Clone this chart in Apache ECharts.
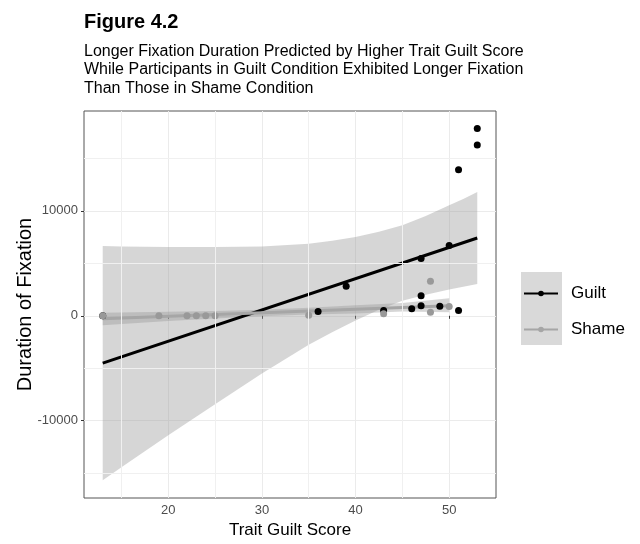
<!DOCTYPE html>
<html><head><meta charset="utf-8">
<script src="https://cdn.jsdelivr.net/npm/echarts@6/dist/echarts.min.js"></script>
<style>html,body{margin:0;padding:0;background:#fff}#c{width:640px;height:544px}</style>
</head><body><div id="c"></div>
<script>
// ---- data ----
const guiltX = [13, 36, 39, 43, 46, 47, 47, 47, 49, 50, 51, 51, 53, 53];
const guiltY = [0, 410, 2819, 500, 680, 950, 1920, 5457, 900, 6695, 505, 13905, 16286, 17838];
const shameX = [13, 19, 22, 23, 24, 25, 35, 43, 48, 48, 50];
const shameY = [0, 0, 0, 0, 0, 0, 50, 190, 330, 3280, 890];
const guiltFitX = [13, 53];
const guiltFitY = [-4515, 7409];
const shameFitX = [13, 50];
const shameFitY = [-280, 950];
const guiltBandX = [13, 15, 20, 25, 30, 35, 37.5, 40, 42.5, 45, 47.5, 50, 51.5, 53];
const guiltBandLo = [-15676, -14436, -11383, -8426, -5501, -2766, -1558, -445, 572, 1431, 2003, 2512, 2766, 3021];
const guiltBandHi = [6645, 6614, 6550, 6550, 6614, 6868, 7154, 7504, 8013, 8617, 9507, 10525, 11129, 11797];
const shameBandX = [13, 20, 25, 30, 35, 40, 45, 50];
const shameBandLo = [-900, -500, -250, -40, 120, 230, 400, 340];
const shameBandHi = [300, 380, 450, 580, 760, 1000, 1220, 1680];
const xTicks = [20, 30, 40, 50];
const yTicks = [-10000, 0, 10000];
const xMinor = [15, 25, 35, 45];
const yMinor = [-15000, -5000, 5000, 15000];
const seriesNames = ['Guilt', 'Shame'];

const FONT = '"Liberation Sans", Arial, Helvetica, sans-serif';
const zip = (a, b) => a.map((v, i) => [v, b[i]]);

function bandSeries(name, xs, lo, hi) {
  return {
    name: name, type: 'custom', z: 2, silent: true,
    data: xs.map((x, i) => [x, lo[i], hi[i]]),
    encode: { x: 0, y: [1, 2] },
    renderItem: function (params, api) {
      if (params.dataIndex !== 0) return null;
      const pts = [];
      for (let i = 0; i < xs.length; i++) pts.push(api.coord([xs[i], hi[i]]));
      for (let i = xs.length - 1; i >= 0; i--) pts.push(api.coord([xs[i], lo[i]]));
      return { type: 'polygon', shape: { points: pts }, style: { fill: 'rgba(153,153,153,0.4)' } };
    }
  };
}

const chart = echarts.init(document.getElementById('c'), null, { renderer: 'canvas' });
chart.setOption({
  animation: false,
  textStyle: { fontFamily: FONT },
  title: [
    { text: 'Figure 4.2', left: 79, top: 7, textStyle: { fontFamily: FONT, fontSize: 20, fontWeight: 'bold', color: '#000' } },
    { text: 'Longer Fixation Duration Predicted by Higher Trait Guilt Score\nWhile Participants in Guilt Condition Exhibited Longer Fixation\nThan Those in Shame Condition',
      left: 79, top: 37, textStyle: { fontFamily: FONT, fontSize: 16, fontWeight: 'normal', color: '#000', lineHeight: 18.5 } }
  ],
  grid: { left: 84, top: 111, width: 412, height: 387, show: true, borderColor: '#555', borderWidth: 1, backgroundColor: '#fff', containLabel: false },
  legend: {
    data: seriesNames, orient: 'vertical', left: 518, top: 280,
    itemWidth: 34, itemHeight: 7, itemGap: 19,
    textStyle: { fontFamily: FONT, fontSize: 17, color: '#000', padding: [0, 0, 0, 8] }
  },
  graphic: [{ type: 'rect', left: 521, top: 272, shape: { width: 41, height: 73 }, style: { fill: '#d9d9d9' }, z: -1 }],
  xAxis: {
    type: 'value', min: 11, max: 55,
    name: 'Trait Guilt Score', nameLocation: 'middle', nameGap: 24, nameMoveOverlap: false,
    nameTextStyle: { fontFamily: FONT, fontSize: 17, color: '#000' },
    axisLine: { show: false },
    axisTick: { show: true, length: 3, customValues: xTicks, lineStyle: { color: '#333' } },
    axisLabel: { customValues: xTicks, margin: 6, fontFamily: FONT, fontSize: 13, color: '#4d4d4d', formatter: v => String(v) },
    splitLine: { show: true, lineStyle: { color: '#ebebeb', width: 1 } }
  },
  yAxis: {
    type: 'value', min: -17362, max: 19514,
    name: 'Duration of Fixation', nameLocation: 'middle', nameGap: 49, nameMoveOverlap: false,
    nameTextStyle: { fontFamily: FONT, fontSize: 20, color: '#000' },
    axisLine: { show: false },
    axisTick: { show: true, length: 3, customValues: yTicks, lineStyle: { color: '#333' } },
    axisLabel: { customValues: yTicks, margin: 6, fontFamily: FONT, fontSize: 13, color: '#4d4d4d', formatter: v => String(v) },
    splitLine: { show: true, lineStyle: { color: '#ebebeb', width: 1 } }
  },
  series: [
    { name: 'minor', type: 'scatter', data: [], z: 1, silent: true,
      markLine: { silent: true, symbol: 'none', label: { show: false }, animation: false,
        lineStyle: { color: '#f0f0f0', width: 1, type: 'solid' },
        data: xMinor.map(v => ({ xAxis: v })).concat(yMinor.map(v => ({ yAxis: v }))) } },
    { name: 'Guilt pts', type: 'scatter', z: 2, data: zip(guiltX, guiltY), symbolSize: 7, itemStyle: { color: '#000', opacity: 1 } },
    { name: 'Shame pts', type: 'scatter', z: 2, data: zip(shameX, shameY), symbolSize: 7, itemStyle: { color: '#999999', opacity: 1 } },
    bandSeries('Guilt band', guiltBandX, guiltBandLo, guiltBandHi),
    { name: 'Guilt', type: 'line', z: 2, data: zip(guiltFitX, guiltFitY), symbol: 'circle', symbolSize: 6, showSymbol: false,
      lineStyle: { color: '#000', width: 3 }, itemStyle: { color: '#000' } },
    bandSeries('Shame band', shameBandX, shameBandLo, shameBandHi),
    { name: 'Shame', type: 'line', z: 2, data: zip(shameFitX, shameFitY), symbol: 'circle', symbolSize: 6, showSymbol: false,
      lineStyle: { color: '#a6a6a6', width: 3 }, itemStyle: { color: '#a6a6a6' } }
  ]
});
</script></body></html>
